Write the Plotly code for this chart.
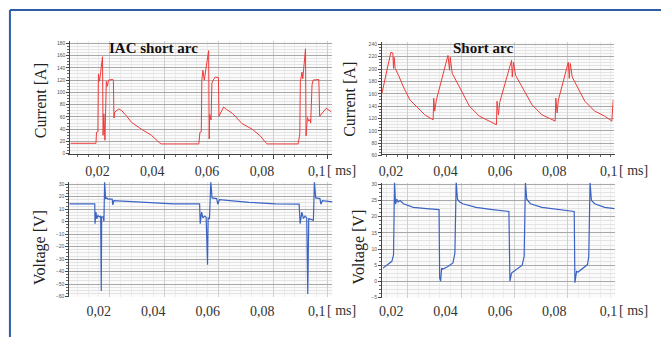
import plotly.graph_objects as go

# ---------------- data (time in ms) ----------------
# IAC short arc - current [A]
t_iac_i = [0.0055, 0.0149, 0.0151, 0.0156, 0.0158, 0.0162, 0.0164, 0.0173, 0.0175, 0.0178,
           0.0182, 0.0187, 0.0191, 0.0195, 0.0211, 0.0213, 0.0215, 0.0218, 0.0233, 0.0244,
           0.0262, 0.0280, 0.0316, 0.0353, 0.0382, 0.0389, 0.0527, 0.0531, 0.0536, 0.0538,
           0.0542, 0.0547, 0.0563, 0.0565, 0.0567, 0.0572, 0.0575, 0.0580, 0.0587, 0.0599,
           0.0601, 0.0618, 0.0629, 0.0650, 0.0686, 0.0723, 0.0753, 0.0771, 0.0778, 0.0892,
           0.0895, 0.0898, 0.0900, 0.0906, 0.0909, 0.0919, 0.0921, 0.0926, 0.0931, 0.0936,
           0.0938, 0.0943, 0.0947, 0.0968, 0.0971, 0.0995, 0.1015]
i_iac = [17, 17, 35, 36, 130, 118, 125, 158, 30, 65,
         22, 118, 110, 120, 121, 119, 58, 68, 73, 70,
         61, 51, 40, 30, 18, 16, 16, 35, 36, 120,
         136, 120, 168, 24, 64, 55, 115, 120, 125, 124,
         61, 76, 72, 66, 49, 40, 29, 19, 16, 16,
         30, 32, 117, 133, 122, 171, 29, 59, 53, 56,
         50, 112, 120, 121, 61, 74, 68]

# Short arc - current [A]
t_sa_i = [0.01037, 0.01370, 0.01444, 0.01470, 0.01493, 0.01530, 0.01656, 0.01841, 0.02085, 0.02333,
          0.02641, 0.02952, 0.02974, 0.03011, 0.03074, 0.03507, 0.03567, 0.03593, 0.03667, 0.03937,
          0.04307, 0.04678, 0.05048, 0.05322, 0.05344, 0.05396, 0.05444, 0.05889, 0.05915, 0.05963,
          0.06037, 0.06285, 0.06656, 0.07026, 0.07519, 0.07544, 0.07593, 0.07641, 0.08011, 0.08048,
          0.08085, 0.08159, 0.08630, 0.09000, 0.09370, 0.09641, 0.09693]
i_sa = [161, 227, 226, 201, 219, 201, 190, 171, 150, 140,
        126, 118, 153, 132, 150, 222, 198, 219, 193, 171,
        140, 124, 116, 110, 148, 126, 146, 214, 187, 211,
        190, 171, 142, 126, 116, 153, 129, 150, 211, 185,
        209, 187, 148, 132, 124, 116, 150]

# IAC short arc - voltage [V]
t_iac_v = [0.0051, 0.01444, 0.01455, 0.01491, 0.01516, 0.01564, 0.01611, 0.01662, 0.01684, 0.01698,
           0.01756, 0.01782, 0.01807, 0.01844, 0.01880, 0.01938, 0.02084, 0.02109, 0.02145, 0.03356,
           0.04327, 0.05298, 0.05320, 0.05371, 0.05418, 0.05480, 0.05538, 0.05589, 0.05611, 0.05662,
           0.05709, 0.05756, 0.05927, 0.05964, 0.06025, 0.07116, 0.08084, 0.08956, 0.08993, 0.09055,
           0.09116, 0.09175, 0.09236, 0.09273, 0.09309, 0.09480, 0.09516, 0.09564, 0.09720, 0.09756,
           0.09807, 0.10182]
v_iac = [14.2, 14.2, -1.6, 7.6, 2.4, 5, 3.7, 4.5, -55.5, 3.7,
         4, 0.2, 32, 18.2, 19, 18, 18, 13.4, 16.8, 15.5,
         14.2, 14.2, -1.6, 7.6, 3, 4.5, 3.5, -34.5, 3, 2.5,
         32, 19, 18.5, 14, 17.6, 15.5, 14.2, 14, -1.6, 7.6,
         2.5, 4.5, 3, -58, 2.5, 1, 32, 19, 18.5, 14,
         16.8, 15.8]

# Short arc - voltage [V]
t_sa_v = [0.01074, 0.01222, 0.01407, 0.01470, 0.01507, 0.01544, 0.01593, 0.01641, 0.01715, 0.01841,
          0.02211, 0.02704, 0.03174, 0.03196, 0.03233, 0.03270, 0.03322, 0.03507, 0.03693, 0.03767,
          0.03815, 0.03863, 0.03937, 0.04063, 0.04556, 0.05174, 0.05789, 0.05826, 0.05889, 0.05937,
          0.06100, 0.06285, 0.06359, 0.06407, 0.06456, 0.06593, 0.07026, 0.07641, 0.08233, 0.08259,
          0.08322, 0.08381, 0.08567, 0.08730, 0.08778, 0.08826, 0.08878, 0.09000, 0.09370, 0.09741]
v_sa = [4.1, 5, 6.2, 8.2, 31, 23.9, 25.4, 24.5, 25, 24,
        22.9, 22.5, 22.2, 1.1, 0.1, 4.1, 3.8, 4.6, 5.7, 8.7,
        31, 25.4, 24.6, 24, 22.9, 22.2, 21.6, 0.1, 2.6, 2.9,
        3.9, 5, 7.7, 30.5, 25.4, 24, 22.9, 22.2, 21.6, -0.4,
        3.1, 2.9, 4.1, 5.2, 7.7, 30.5, 25, 24, 22.9, 22.5]

x_tickvals = [0.02, 0.04, 0.06, 0.08, 0.1]
x_ticktext = ["0,02", "0,04", "0,06", "0,08", "0,1"]
x_unit = "[ ms]"
titles = ["IAC short arc", "Short arc"]
ytitle_current = "Current [A]"
ytitle_voltage = "Voltage [V]"

W, H = 665, 340
RED = "#ee3b3b"
BLUE = "#3b63c4"
SERIF = "Liberation Serif, Times New Roman, serif"


def px(x):
    return x / W


def py(y):
    return 1 - y / H


fig = go.Figure()
fig.add_trace(go.Scatter(x=t_iac_i, y=i_iac, mode="lines", line=dict(color=RED, width=1), xaxis="x", yaxis="y"))
fig.add_trace(go.Scatter(x=t_sa_i, y=i_sa, mode="lines", line=dict(color=RED, width=1), xaxis="x2", yaxis="y2"))
fig.add_trace(go.Scatter(x=t_iac_v, y=v_iac, mode="lines", line=dict(color=BLUE, width=1.2), xaxis="x3", yaxis="y3"))
fig.add_trace(go.Scatter(x=t_sa_v, y=v_sa, mode="lines", line=dict(color=BLUE, width=1.2), xaxis="x4", yaxis="y4"))
# empty traces to activate the label axes
for k, ya in zip([5, 6, 7, 8], ["y", "y2", "y3", "y4"]):
    fig.add_trace(go.Scatter(x=[], y=[], xaxis=f"x{k}", yaxis=ya, hoverinfo="skip"))


def data_xaxis(dom, rng):
    return dict(domain=dom, range=rng, dtick=0.02, tick0=0, showticklabels=False,
                showgrid=True, gridcolor="#cfcfcf", gridwidth=1, zeroline=False,
                showline=True, linecolor="#444", linewidth=1, ticks="outside", ticklen=4,
                tickcolor="#444",
                minor=dict(dtick=0.004, showgrid=True, gridcolor="#ececec", ticks="outside",
                           ticklen=2, tickcolor="#666"))


def data_yaxis(dom, rng, dtick, mdtick, anchor):
    return dict(domain=dom, range=rng, dtick=dtick, tick0=0, anchor=anchor,
                showgrid=True, gridcolor="#a8a8a8", gridwidth=1.2, zeroline=False,
                showline=True, linecolor="#444", linewidth=1, ticks="outside", ticklen=3,
                tickcolor="#444", tickfont=dict(size=5, color="#555", family="Liberation Sans"),
                minor=dict(dtick=mdtick, showgrid=True, gridcolor="#e4e4e4", ticks="outside",
                           ticklen=2, tickcolor="#666"))


def label_xaxis(dom, rng, over, pos):
    return dict(domain=dom, range=rng, overlaying=over, anchor="free", position=pos,
                tickvals=x_tickvals, ticktext=x_ticktext, showgrid=False, zeroline=False,
                showline=False, ticks="", tickfont=dict(family=SERIF, size=14, color="#333"))


dTLx = [px(68), px(332)]
dTRx = [px(383), px(617)]
dBLx = [px(67), px(333)]
dBRx = [px(383), px(619)]

fig.update_layout(
    width=W, height=H, margin=dict(l=0, r=0, t=0, b=0),
    paper_bgcolor="white", plot_bgcolor="#fbfbfb", showlegend=False,
    xaxis=data_xaxis(dTLx, [0.005455, 0.101455]),
    yaxis=data_yaxis([py(154), py(40)], [0, 183], 20, 5, "x"),
    xaxis2=data_xaxis(dTRx, [0.01037, 0.09704]),
    yaxis2=data_yaxis([py(156), py(41)], [60, 243], 20, 5, "x2"),
    xaxis3=data_xaxis(dBLx, [0.00509, 0.10182]),
    yaxis3=data_yaxis([py(299), py(183)], [-60, 31.5], 10, 2.5, "x3"),
    xaxis4=data_xaxis(dBRx, [0.01037, 0.09778]),
    yaxis4=data_yaxis([py(300), py(183.4)], [-5, 30.5], 5, 1.25, "x4"),
    xaxis5=label_xaxis(dTLx, [0.010027, 0.10542], "x", py(161)),
    xaxis6=label_xaxis(dTRx, [0.016655, 0.101745], "x2", py(161)),
    xaxis7=label_xaxis(dBLx, [0.009183, 0.105735], "x3", py(303)),
    xaxis8=label_xaxis(dBRx, [0.016576, 0.102550], "x4", py(303)),
)

ann = []
# "[ ms]" units next to the last tick label of each panel
for xr, yy in [("x5", 171), ("x6", 171), ("x7", 313), ("x8", 313)]:
    ann.append(dict(text=x_unit, xref=xr, x=x_tickvals[-1], xshift=8, xanchor="left",
                    yref="paper", y=py(yy), yanchor="middle", showarrow=False,
                    font=dict(family=SERIF, size=14, color="#333")))
# axis titles
for txt, x, y in [(ytitle_current, 38, 100), (ytitle_current, 350, 99),
                  (ytitle_voltage, 38, 249), (ytitle_voltage, 360, 249)]:
    ann.append(dict(text=txt, xref="paper", yref="paper", x=px(x), y=py(y), textangle=-90,
                    showarrow=False, xanchor="center", yanchor="middle",
                    font=dict(family=SERIF, size=16, color="#222")))
# panel titles
for txt, x, y in [(titles[0], 152, 47), (titles[1], 485, 47)]:
    ann.append(dict(text="<b>" + txt + "</b>", xref="paper", yref="paper", x=px(x), y=py(y),
                    showarrow=False, xanchor="center", yanchor="middle",
                    font=dict(family=SERIF, size=15, color="#111")))
fig.update_layout(annotations=ann)

# blue frame lines
fig.add_shape(type="line", xref="paper", yref="paper", x0=px(7), x1=1, y0=py(8), y1=py(8),
              line=dict(color="#2f5ea8", width=2))
fig.add_shape(type="line", xref="paper", yref="paper", x0=px(7), x1=px(7), y0=py(8), y1=0,
              line=dict(color="#2f5ea8", width=2))

fig.write_html("out.html", config={"displayModeBar": False},
               post_script="document.body.style.margin='0';document.body.style.padding='0';")
